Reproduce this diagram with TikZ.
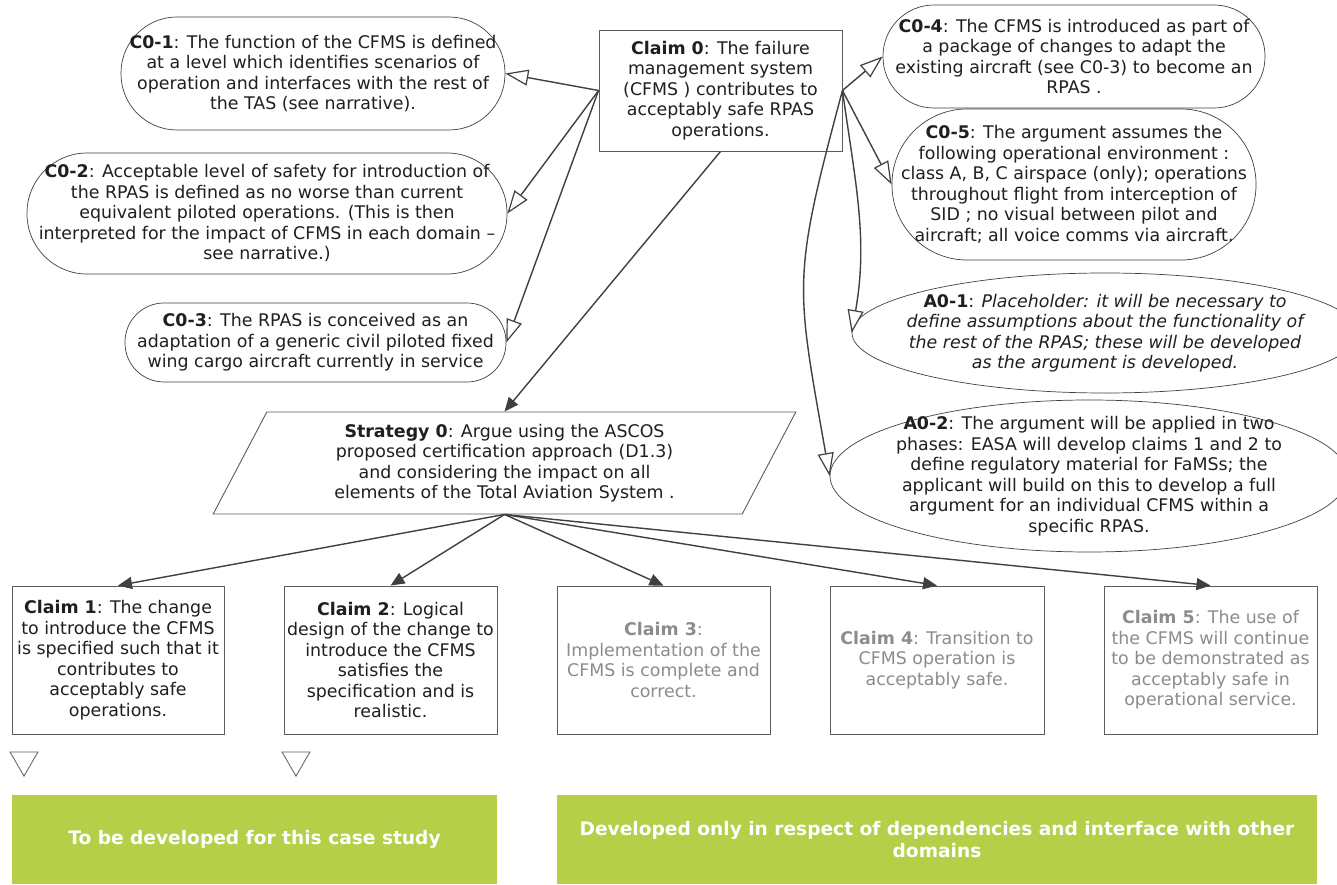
\documentclass[tikz,border=0pt]{standalone}
\usepackage{fontspec}
\setmainfont{DejaVu Sans}
\usetikzlibrary{arrows.meta,shapes.geometric}

\definecolor{linegray}{HTML}{404040}
\definecolor{boxgray}{HTML}{5C5C5C}
\definecolor{fadetext}{HTML}{8C8C8C}
\definecolor{leaf}{RGB}{181,207,73}

\tikzset{
  every node/.style={font=\fontsize{17.4}{20.5}\selectfont, align=center, inner sep=0pt, text=black!88},
  ctxbox/.style={draw=linegray, line width=0.7pt, rectangle},
  assum/.style={draw=linegray, line width=0.7pt, ellipse},
  goalbox/.style={draw=boxgray, line width=0.9pt, rectangle, minimum height=148pt},
  fadegoal/.style={goalbox, text=fadetext},
  undev/.style={draw=boxgray, line width=0.8pt, regular polygon, regular polygon sides=3,
                shape border rotate=180, minimum size=32.3pt},
  band/.style={fill=leaf, text=white, minimum height=89pt,
               font=\fontsize{18.6}{22.5}\selectfont\bfseries},
  ctxarrow/.style={draw=linegray, line width=1.4pt,
                   -{Triangle[open, length=23pt, width=16pt, fill=white, line width=1.2pt]}},
  support/.style={draw=linegray, line width=1.4pt,
                  -{Triangle[length=14pt, width=12pt]}}
}

\begin{document}
\begin{tikzpicture}[x=1pt, y=1pt]
\useasboundingbox (0,0) rectangle (1337,884);
\fill[white] (0,0) rectangle (1337,884);
\clip (0,0) rectangle (1337,884);

% top claim
\node[goalbox, minimum width=243pt, minimum height=121pt] (c0) at (720.5,793.5)
  {\textbf{Claim 0}: The failure\\ management system\\ (CFMS ) contributes to\\ acceptably safe RPAS\\ operations.};

% contexts on the left
\node[ctxbox, minimum width=384pt, minimum height=113pt, rounded corners=56pt] (c01) at (313,810.5)
  {\textbf{C0-1}: The function of the CFMS is defined\\ at a level which identifies scenarios of\\ operation and interfaces with the rest of\\ the TAS (see narrative).};
\node[ctxbox, minimum width=480pt, minimum height=121pt, rounded corners=60pt] (c02) at (267,670.5)
  {\textbf{C0-2}: Acceptable level of safety for introduction of\\ the RPAS is defined as no worse than current\\ equivalent piloted operations. (This is then\\ interpreted for the impact of CFMS in each domain --\\ see narrative.)};
\node[ctxbox, minimum width=381pt, minimum height=79pt, rounded corners=39pt] (c03) at (315.5,541.5)
  {\textbf{C0-3}: The RPAS is conceived as an\\ adaptation of a generic civil piloted fixed\\ wing cargo aircraft currently in service};

% contexts on the right
\node[ctxbox, minimum width=382pt, minimum height=103pt, rounded corners=51pt] (c04) at (1074,827.5)
  {\textbf{C0-4}: The CFMS is introduced as part of\\ a package of changes to adapt the\\ existing aircraft (see C0-3) to become an\\ RPAS .};
\node[ctxbox, minimum width=364pt, minimum height=151pt, rounded corners=75pt] (c05) at (1074,699.5)
  {\textbf{C0-5}: The argument assumes the\\ following operational environment :\\ class A, B, C airspace (only); operations\\ throughout flight from interception of\\ SID ; no visual between pilot and\\ aircraft; all voice comms via aircraft.};

% assumptions: outline and text set separately so the ellipse keeps its size
\node[assum, minimum width=506pt, minimum height=120pt] (a01) at (1105,551) {};
\node (a01text) at (a01.center)
  {\textbf{A0-1}: \itshape Placeholder: it will be necessary to\\ \itshape define assumptions about the functionality of\\ \itshape the rest of the RPAS; these will be developed\\ \itshape as the argument is developed.};
\node[assum, minimum width=518pt, minimum height=152pt] (a02) at (1089,408) {};
\node (a02text) at (a02.center)
  {\textbf{A0-2}: The argument will be applied in two\\ phases: EASA will develop claims 1 and 2 to\\ define regulatory material for FaMSs; the\\ applicant will build on this to develop a full\\ argument for an individual CFMS within a\\ specific RPAS.};

% strategy
\node[draw=boxgray, line width=0.9pt, trapezium, trapezium left angle=63.9, trapezium right angle=116.1,
      trapezium stretches=true, minimum width=583pt, minimum height=102pt] (s0) at (504.5,421)
  {\textbf{Strategy 0}: Argue using the ASCOS\\ proposed certification approach (D1.3)\\ and considering the impact on all\\ elements of the Total Aviation System .};

% sub-claims
\node[goalbox, minimum width=212pt] (cl1) at (118,224)
  {\textbf{Claim 1}: The change\\ to introduce the CFMS\\ is specified such that it\\ contributes to\\ acceptably safe\\ operations.};
\node[goalbox, minimum width=213pt] (cl2) at (390.5,224)
  {\textbf{Claim 2}: Logical\\ design of the change to\\ introduce the CFMS\\ satisfies the\\ specification and is\\ realistic.};
\node[fadegoal, minimum width=213pt] (cl3) at (663.5,224)
  {\textbf{Claim 3}:\\ Implementation of the\\ CFMS is complete and\\ correct.};
\node[fadegoal, minimum width=214pt] (cl4) at (937,224)
  {\textbf{Claim 4}: Transition to\\ CFMS operation is\\ acceptably safe.};
\node[fadegoal, minimum width=213pt] (cl5) at (1210.5,224)
  {\textbf{Claim 5}: The use of\\ the CFMS will continue\\ to be demonstrated as\\ acceptably safe in\\ operational service.};

% undeveloped markers
\node[undev] (u1) at (24,124) {};
\node[undev] (u2) at (296,124) {};

% scope bands
\node[band, minimum width=485pt] (g1) at (254.5,44.5) {To be developed for this case study};
\node[band, minimum width=760pt] (g2) at (937,44.5)
  {Developed only in respect of dependencies and interface with other\\ domains};

% context links
\draw[ctxarrow] (c0.west) -- (c01.east);
\draw[ctxarrow] (c0.west) -- (c02.east);
\draw[ctxarrow] (c0.west) -- (c03.east);
\draw[ctxarrow] (c0.east) -- (c04.west);
\draw[ctxarrow] (c0.east) -- (c05.west);
\draw[ctxarrow] (c0.east) to[out=-82, in=80] (a01.west);
\draw[ctxarrow] (c0.east) to[out=-105, in=100, looseness=1.3] (a02.west);

% support links
\draw[support] (c0.south) -- (s0.north);
\draw[support] (s0.south) -- (cl1.north);
\draw[support] (s0.south) -- (cl2.north);
\draw[support] (s0.south) -- (cl3.north);
\draw[support] (s0.south) -- (cl4.north);
\draw[support] (s0.south) -- (cl5.north);
\end{tikzpicture}
\end{document}
